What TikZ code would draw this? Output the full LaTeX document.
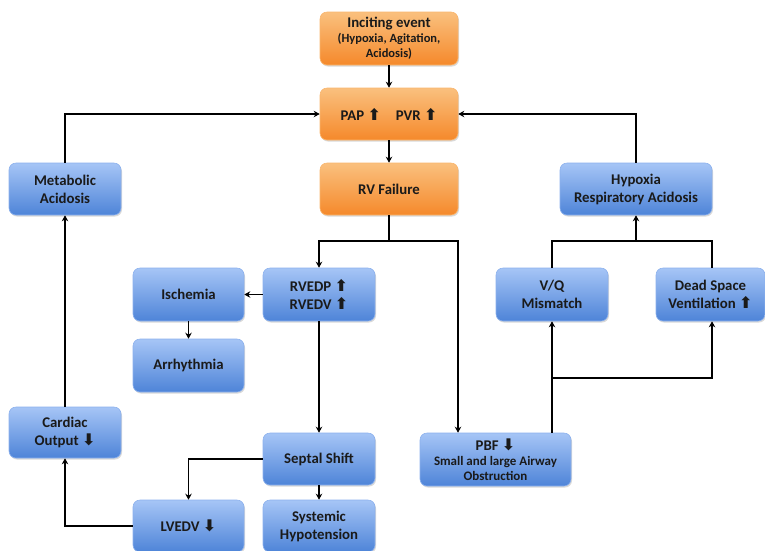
\documentclass[tikz,border=0pt]{standalone}
\usepackage{fontspec}
\setmainfont{Carlito}
\newfontfamily\arrfont{DejaVu Sans}
\usetikzlibrary{arrows.meta,shadows}
\newcommand\uarr{{\arrfont\bfseries\fontsize{16}{16}\selectfont ⬆}}
\newcommand\darr{{\arrfont\bfseries\fontsize{16}{16}\selectfont ⬇}}
\newcommand\smallt{\fontsize{12.5}{15}\selectfont\bfseries}
\newcommand\smallp{\fontsize{13}{16}\selectfont\bfseries}
\definecolor{orTop}{HTML}{FAC07E}
\definecolor{orBot}{HTML}{F5892B}
\definecolor{blTop}{HTML}{A6C5F6}
\definecolor{blBot}{HTML}{4E84D8}
\definecolor{txt}{HTML}{1A1A1A}
\tikzset{
  box/.style={rounded corners=7pt, inner sep=0pt, align=center, text=txt,
    font=\fontsize{14.8}{18}\selectfont\bfseries,
    drop shadow={opacity=0.3, shadow xshift=1pt, shadow yshift=-1.5pt}},
  obox/.style={box, top color=orTop, bottom color=orBot, draw=orTop!80!orBot, line width=0.6pt},
  bbox/.style={box, top color=blTop, bottom color=blBot, draw=blTop!70!blBot, line width=0.6pt},
  conn/.style={line width=1.7pt, -{Stealth[length=6pt,width=6.5pt]}},
  wire/.style={line width=1.7pt}
}
\begin{document}
\begin{tikzpicture}[x=1pt,y=-1pt]
\useasboundingbox (0,0) rectangle (765,550);
% orange boxes
\node[obox, minimum width=138pt, minimum height=53pt] (inc) at (389,38.5)
  {Inciting event\\[-3pt]{\smallt (Hypoxia, Agitation,}\\[-3pt]{\smallt Acidosis)}};
\node[obox, minimum width=138pt, minimum height=52pt] (pap) at (389,114) {PAP \uarr\quad PVR \uarr};
\node[obox, minimum width=138pt, minimum height=52pt] (rv) at (389,189) {RV Failure};
% blue boxes
\node[bbox, minimum width=112pt, minimum height=52pt] (meta) at (65,189) {Metabolic\\Acidosis};
\node[bbox, minimum width=152pt, minimum height=52pt] (hyp) at (636,189) {Hypoxia\\Respiratory Acidosis};
\node[bbox, minimum width=111pt, minimum height=53pt] (isch) at (188.5,294.5) {Ischemia};
\node[bbox, minimum width=112pt, minimum height=53pt] (rvedp) at (319,294.5) {RVEDP \uarr\\RVEDV \uarr};
\node[bbox, minimum width=111pt, minimum height=53pt] (arr) at (188.5,365.5) {Arrhythmia};
\node[bbox, minimum width=112pt, minimum height=53pt] (vq) at (552,294.5) {V/Q\\Mismatch};
\node[bbox, minimum width=109pt, minimum height=53pt] (dead) at (710.5,294.5) {Dead Space\\Ventilation \uarr};
\node[bbox, minimum width=112pt, minimum height=51pt] (co) at (65,432.5) {Cardiac\\Output \darr};
\node[bbox, minimum width=112pt, minimum height=52pt] (septal) at (319,459) {Septal Shift};
\node[bbox, minimum width=151pt, minimum height=53pt] (pbf) at (495.5,459.5)
  {PBF \darr\\[-3pt]{\smallp Small and large Airway}\\[-3pt]{\smallp Obstruction}};
\node[bbox, minimum width=111pt, minimum height=52pt] (lvedv) at (188.5,526) {LVEDV \darr};
\node[bbox, minimum width=112pt, minimum height=52pt] (syst) at (319,526) {Systemic\\Hypotension};
% connectors
\draw[conn] (inc) -- (pap);
\draw[conn] (pap) -- (rv);
\draw[conn] (meta.north) |- (pap.west);
\draw[conn] (hyp.north) |- (pap.east);
\coordinate (split) at (389,241);
\draw[wire] (rv.south) -- (split);
\draw[conn] (split) -| (rvedp.north);
\draw[conn] (split) -| ([xshift=-37.5pt]pbf.north);
\draw[conn] (rvedp) -- (isch);
\draw[conn] (isch) -- (arr);
\draw[conn] (rvedp) -- (septal);
\draw[conn] (septal.west) -| (lvedv.north);
\draw[conn] (septal) -- (syst);
\draw[conn] (lvedv.west) -| (co.south);
\draw[conn] (co) -- (meta);
\draw[conn] (pbf.north -| vq.south) -- (vq.south);
\coordinate (j2) at (552,378);
\draw[conn] (j2) -| ([xshift=1.5pt]dead.south);
\coordinate (j3) at (636,241);
\draw[wire] (vq.north) |- (j3) -| ([xshift=1.5pt]dead.north);
\draw[conn] (j3) -- (hyp.south);
\end{tikzpicture}
\end{document}
